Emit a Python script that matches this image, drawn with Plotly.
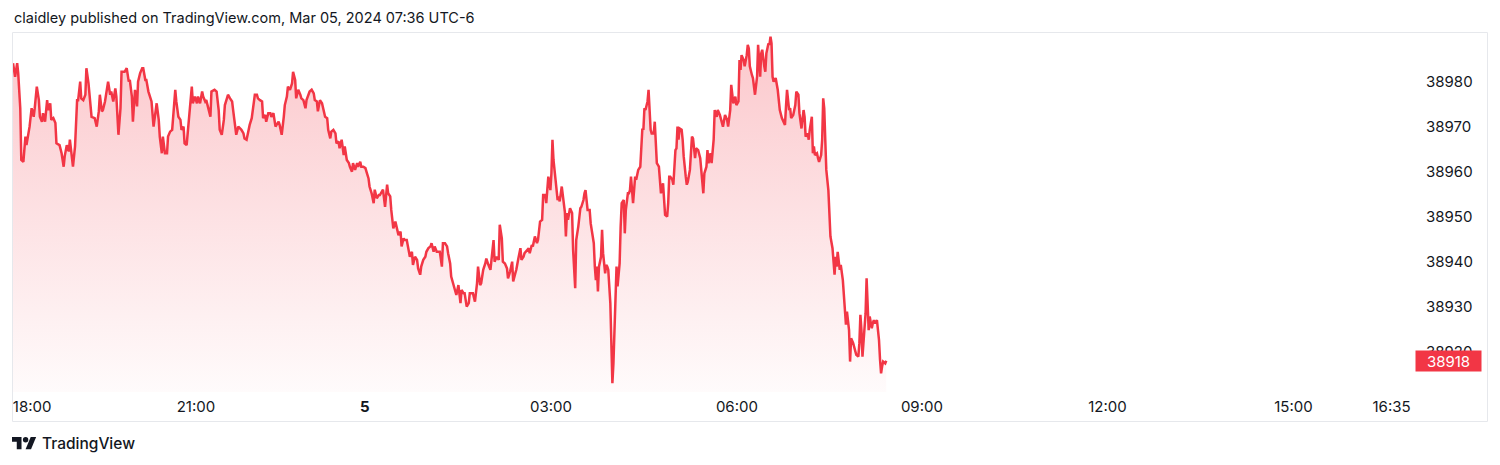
import plotly.graph_objects as go

# ---------------- data (bar index on the session axis, price) ----------------
bars_evening = [
    1, 3, 5, 6, 8, 9, 11, 13, 14, 16,
    17, 19, 21, 22, 24, 26, 27, 29, 30, 32,
    34, 35, 37, 38, 40, 42, 43, 46, 48, 50,
    51, 53, 55, 56, 58, 59, 61, 63, 64, 66,
    67, 69, 71, 72, 74, 75, 77, 80, 82, 84,
    85, 87, 88, 90, 92, 93, 95, 96, 98, 100,
    101, 103, 105, 106, 109, 111, 113, 114, 116, 117,
    119, 121, 122, 124, 126, 127, 129, 130, 132, 134,
    135, 137, 138, 140, 142, 143, 145, 146, 148, 150,
    151, 153, 155, 156, 158, 159, 161, 163, 164, 166,
    167, 169, 171, 172, 174, 175, 177, 179, 180, 182,
    184, 185, 187, 188, 190, 192, 193, 196, 198, 200,
    201, 203, 205, 206, 208, 209, 211, 213, 214, 216,
]
price_evening = [
    38984.1, 38981.1, 38984.1, 38981.9, 38974.1, 38962.6, 38962.2, 38967.8, 38965.9, 38968.2,
    38970.0, 38974.1, 38972.2, 38974.1, 38978.9, 38975.9, 38972.2, 38971.1, 38973.0, 38971.1,
    38975.9, 38973.7, 38975.2, 38971.5, 38971.9, 38970.8, 38966.3, 38965.9, 38964.1, 38961.1,
    38963.4, 38965.9, 38964.5, 38967.1, 38962.2, 38961.1, 38965.6, 38975.9, 38975.9, 38980.0,
    38976.3, 38975.9, 38977.1, 38983.0, 38979.7, 38976.7, 38972.2, 38971.9, 38970.0, 38973.4,
    38977.1, 38973.4, 38973.7, 38975.6, 38978.2, 38980.0, 38977.1, 38977.8, 38975.6, 38978.5,
    38976.7, 38968.2, 38974.1, 38982.2, 38982.2, 38983.0, 38980.0, 38980.4, 38976.7, 38971.1,
    38978.2, 38974.5, 38980.0, 38981.9, 38983.0, 38983.0, 38980.4, 38980.4, 38977.8, 38975.9,
    38975.6, 38970.0, 38971.9, 38975.2, 38971.5, 38967.8, 38964.1, 38967.8, 38964.1, 38964.1,
    38967.8, 38968.9, 38969.3, 38972.2, 38978.2, 38975.6, 38972.2, 38971.5, 38969.3, 38970.0,
    38966.3, 38965.9, 38971.5, 38973.7, 38978.9, 38975.2, 38976.7, 38975.2, 38976.7, 38975.2,
    38977.8, 38976.7, 38975.6, 38975.9, 38973.7, 38972.2, 38977.8, 38978.2, 38977.8, 38973.7,
    38969.3, 38968.2, 38971.5, 38974.8, 38976.3, 38977.1, 38976.3, 38975.6, 38973.7, 38970.0,
]

bars_night = [
    217, 219, 221, 222, 224, 225, 227, 229, 230, 232,
    234, 235, 237, 238, 240, 242, 243, 245, 246, 248,
    250, 251, 253, 255, 256, 258, 259, 261, 263, 264,
    266, 267, 269, 271, 272, 274, 275, 277, 279, 280,
    282, 284, 285, 287, 288, 290, 292, 293, 295, 296,
    298, 300, 301, 303, 305, 306, 308, 309, 311, 313,
    314, 316, 317, 319, 321, 322, 324, 326, 327, 329,
    330, 332, 334, 335, 337, 338, 340, 342, 343, 345,
    346, 348, 350, 351, 353, 355, 356, 358, 359, 361,
    363, 364, 366, 367, 369, 371, 372, 374, 376, 377,
    379, 380, 382, 384, 385, 387, 388, 390, 392, 393,
    395, 396, 398, 400, 401, 403, 405, 406, 408, 409,
    411, 413, 414, 416, 417, 419, 421, 422, 424, 425,
    427, 429,
]
price_night = [
    38968.2, 38970.0, 38969.6, 38969.3, 38968.5, 38967.4, 38967.1, 38970.0, 38970.4, 38971.9,
    38975.6, 38977.1, 38977.1, 38976.3, 38975.9, 38975.6, 38971.9, 38972.6, 38971.1, 38973.0,
    38973.0, 38972.2, 38973.0, 38970.0, 38970.4, 38971.1, 38970.4, 38968.2, 38972.2, 38974.8,
    38976.7, 38978.9, 38978.2, 38979.6, 38982.2, 38980.4, 38976.3, 38978.2, 38977.1, 38976.3,
    38975.9, 38974.1, 38975.9, 38977.1, 38977.8, 38978.2, 38977.4, 38975.9, 38975.6, 38973.4,
    38975.9, 38975.2, 38974.1, 38972.2, 38971.9, 38969.3, 38967.4, 38968.9, 38969.3, 38968.5,
    38966.3, 38966.7, 38965.2, 38967.1, 38963.7, 38965.6, 38962.6, 38961.9, 38961.1, 38960.0,
    38961.9, 38960.4, 38961.9, 38961.1, 38962.2, 38961.1, 38961.1, 38960.8, 38960.0, 38958.5,
    38956.7, 38955.2, 38953.0, 38956.0, 38954.1, 38954.8, 38954.8, 38955.6, 38956.0, 38952.2,
    38957.1, 38955.2, 38954.5, 38951.5, 38947.4, 38948.9, 38947.8, 38945.9, 38946.7, 38943.4,
    38945.2, 38944.8, 38944.8, 38941.9, 38941.1, 38942.2, 38939.3, 38941.1, 38940.4, 38938.5,
    38937.1, 38938.9, 38940.4, 38941.1, 38942.2, 38943.0, 38943.4, 38944.1, 38942.2, 38943.4,
    38942.2, 38942.2, 38942.2, 38938.9, 38944.1, 38944.1, 38943.4, 38941.9, 38939.6, 38936.7,
    38935.2, 38933.7,
]

bars_early = [
    430, 432, 434, 435, 437, 438, 440, 442, 443, 445,
    446, 448, 450, 451, 453, 454, 456, 458, 459, 461,
    463, 464, 466, 467, 469, 471, 472, 474, 475, 477,
    479, 480, 482, 484, 485, 487, 488, 490, 492, 493,
    495, 496, 498, 500, 501, 503, 504, 506, 508, 509,
    511, 513, 514, 516, 517, 519, 521, 522, 523, 524,
    526, 528, 529, 530, 532, 533, 535, 536, 537, 538,
    540, 542, 543, 545, 546, 548, 550, 551, 553, 554,
    555, 557, 559, 560, 562, 563, 564, 565, 566, 567,
    568, 570, 571, 572, 574, 575, 576, 577, 579, 580,
    581, 582, 583, 584, 585, 586, 588, 589, 590, 592,
    593, 594, 596, 597, 598, 599, 601, 602, 603, 604,
    606, 608, 609, 610, 611, 612, 613, 615, 616, 617,
    618, 619, 621, 622, 623, 624, 626, 627, 628, 630,
    631, 632, 634, 635, 636, 637, 639, 640,
]
price_early = [
    38932.6, 38934.8, 38930.8, 38933.7, 38933.0, 38933.0, 38930.0, 38930.8, 38933.0, 38933.0,
    38933.0, 38931.1, 38935.2, 38938.9, 38934.8, 38935.2, 38938.2, 38939.6, 38940.7, 38939.3,
    38938.2, 38940.4, 38944.8, 38940.0, 38941.1, 38940.4, 38948.2, 38945.2, 38940.0, 38939.6,
    38938.5, 38936.3, 38937.8, 38940.0, 38935.6, 38937.4, 38938.2, 38940.7, 38943.0, 38940.4,
    38941.1, 38941.9, 38942.6, 38943.0, 38941.9, 38943.7, 38943.4, 38945.6, 38944.1, 38944.8,
    38948.9, 38949.3, 38954.8, 38954.8, 38953.0, 38958.9, 38955.9, 38959.6, 38967.1, 38962.6,
    38958.2, 38953.7, 38954.5, 38953.4, 38956.7, 38954.5, 38951.1, 38945.6, 38950.8, 38949.3,
    38951.9, 38950.8, 38942.6, 38934.1, 38944.8, 38947.8, 38951.9, 38952.2, 38953.7, 38955.2,
    38955.9, 38951.5, 38951.5, 38948.5, 38944.8, 38944.1, 38938.9, 38935.9, 38938.9, 38933.4,
    38938.9, 38941.1, 38947.1, 38941.9, 38937.4, 38939.3, 38938.9, 38938.2, 38930.8, 38921.1,
    38913.0, 38917.4, 38925.6, 38933.7, 38938.9, 38934.5, 38939.6, 38947.8, 38953.0, 38953.7,
    38946.3, 38951.5, 38955.2, 38955.2, 38955.9, 38958.9, 38953.0, 38955.9, 38958.9, 38958.2,
    38960.4, 38961.1, 38964.8, 38969.6, 38969.3, 38974.1, 38973.7, 38975.6, 38978.2, 38974.5,
    38969.3, 38968.5, 38968.5, 38971.1, 38967.1, 38961.9, 38961.1, 38957.8, 38955.2, 38957.4,
    38954.5, 38950.4, 38950.0, 38953.0, 38958.9, 38958.9, 38958.2, 38957.1,
]

bars_morning = [
    642, 643, 644, 645, 646, 648, 649, 650, 652, 653,
    654, 656, 658, 659, 661, 662, 664, 666, 667, 669,
    670, 672, 673, 674, 676, 677, 679, 680, 682, 683,
    685, 687, 688, 690, 692, 693, 695, 696, 697, 698,
    700, 701, 703, 704, 705, 706, 708, 709, 711, 712,
    713, 714, 716, 717, 719, 721, 722, 723, 724, 725,
    726, 728, 729, 730, 732, 733, 734, 735, 736, 737,
    739, 741, 742, 743, 745, 746, 748, 749, 750, 752,
    753, 754, 756, 758, 759, 761, 762, 764, 766, 767,
    768, 770, 771, 772, 774, 775, 776, 777, 779, 780,
    781, 783, 784, 785, 786, 787, 788, 790, 791, 792,
    794, 795, 796, 797, 798, 799, 801, 802, 803, 804,
    806, 807, 808, 810, 811, 812, 814, 815, 816, 817,
    819, 820, 821, 822, 823, 824, 826, 827, 828, 829,
    830, 832, 833, 834, 835, 837, 838, 839, 840, 841,
    842, 843, 845, 846,
]
price_morning = [
    38964.8, 38965.2, 38970.0, 38967.1, 38969.6, 38969.3, 38967.1, 38963.4, 38958.9, 38957.1,
    38957.8, 38960.4, 38967.8, 38967.4, 38963.0, 38965.2, 38964.8, 38963.0, 38960.4, 38955.2,
    38959.6, 38961.1, 38964.8, 38961.9, 38964.1, 38961.9, 38967.1, 38973.7, 38972.2, 38973.7,
    38972.6, 38970.8, 38970.0, 38972.6, 38971.5, 38970.0, 38973.7, 38979.3, 38977.4, 38975.2,
    38976.7, 38974.8, 38975.6, 38984.8, 38982.6, 38985.9, 38984.8, 38983.4, 38985.9, 38988.2,
    38987.4, 38983.4, 38981.5, 38980.8, 38977.1, 38981.1, 38988.2, 38984.1, 38981.1, 38986.3,
    38987.1, 38983.4, 38982.2, 38986.3, 38988.5, 38988.2, 38990.0, 38988.5, 38981.1, 38980.0,
    38980.8, 38978.2, 38975.6, 38973.7, 38971.9, 38971.5, 38970.4, 38974.5, 38978.2, 38973.7,
    38974.1, 38971.9, 38972.6, 38974.8, 38977.8, 38977.1, 38973.0, 38969.6, 38973.7, 38972.2,
    38967.8, 38968.5, 38967.1, 38969.3, 38972.2, 38964.1, 38965.6, 38963.7, 38964.1, 38963.0,
    38962.2, 38963.7, 38967.1, 38976.3, 38974.1, 38967.1, 38960.4, 38955.9, 38951.1, 38945.6,
    38943.0, 38940.4, 38937.1, 38941.1, 38938.9, 38942.2, 38938.2, 38939.3, 38937.8, 38935.9,
    38929.3, 38926.0, 38928.9, 38924.8, 38917.8, 38923.0, 38921.9, 38921.1, 38920.0, 38919.3,
    38918.9, 38921.9, 38928.2, 38924.8, 38918.9, 38922.6, 38928.5, 38936.3, 38930.8, 38924.8,
    38927.8, 38925.2, 38926.3, 38927.0, 38926.3, 38927.0, 38924.8, 38922.6, 38918.2, 38915.2,
    38916.7, 38917.8, 38917.4, 38918.0,
]

last_price = 38918

time_tick_bars = [19.5, 178, 341.5, 521.5, 701.5, 880.5, 1060, 1240, 1335]
time_tick_text = ["18:00", "21:00", "<b>5</b>", "03:00", "06:00", "09:00", "12:00", "15:00", "16:35"]
price_ticks = [38920, 38930, 38940, 38950, 38960, 38970, 38980]

header_text = "claidley published on TradingView.com, Mar 05, 2024 07:36 UTC-6"
brand_text = "TradingView"

# ---------------- layout constants ----------------
W, H = 1500, 465
ML, MR, MT, MB = 12, 85, 32, 73
PW = W - ML - MR
PH = H - MT - MB
RED = "#F23645"
INK = "#131722"
FONT = "Inter, Roboto, Arial, sans-serif"


def fx(px):
    return (px - ML) / PW


def fy(py):
    return (H - MB - py) / PH


bars = bars_evening + bars_night + bars_early + bars_morning
prices = price_evening + price_night + price_early + price_morning

Y0, Y1 = 38911.04, 38991.04

fig = go.Figure()
fig.add_trace(go.Scatter(
    x=bars, y=prices, mode="lines",
    line=dict(color=RED, width=2.5),
    fill="tozeroy",
    fillgradient=dict(type="vertical", start=Y0, stop=Y1,
                      colorscale=[[0, "rgba(242,54,69,0.02)"], [1, "rgba(242,54,69,0.28)"]]),
    hoverinfo="skip", showlegend=False,
))

# frame
shapes = [dict(type="rect", xref="paper", yref="paper",
               x0=fx(12.5), x1=fx(1487.5), y0=fy(421.5), y1=fy(32.5),
               line=dict(color="#e6e8ec", width=1), fillcolor="rgba(0,0,0,0)", layer="above")]

# TradingView logo
S, OX, OY = 0.68, 12, 434.3


def lp(u, v):
    return f"{fx(OX + u * S):.6f},{fy(OY + v * S):.6f}"


t_shape = [(0, 4), (14, 4), (14, 22), (7, 22), (7, 11), (0, 11)]
slant = [(20, 22), (27.5, 4), (35.5, 4), (28, 22)]
for poly in (t_shape, slant):
    path = "M" + " L".join(lp(u, v) for u, v in poly) + " Z"
    shapes.append(dict(type="path", xref="paper", yref="paper", path=path,
                       fillcolor=INK, line=dict(width=0)))
shapes.append(dict(type="circle", xref="paper", yref="paper",
                   x0=fx(OX + 16 * S), x1=fx(OX + 24 * S),
                   y0=fy(OY + 12 * S), y1=fy(OY + 4 * S),
                   fillcolor=INK, line=dict(width=0)))

annotations = [
    dict(text=header_text, xref="paper", yref="paper", x=fx(12), y=fy(18),
         xanchor="left", yanchor="middle", showarrow=False,
         font=dict(family=FONT, size=14.5, color=INK)),
    dict(text=brand_text, xref="paper", yref="paper", x=fx(39.5), y=fy(443.5),
         xanchor="left", yanchor="middle", showarrow=False,
         font=dict(family=FONT, size=15.5, color=INK, weight=500)),
    dict(text=str(last_price), xref="paper", yref="y", x=1.0, y=last_price,
         xanchor="left", yanchor="middle", showarrow=False,
         bgcolor=RED, width=61, height=16, borderpad=2, align="center",
         font=dict(family=FONT, size=15, color="white")),
]

fig.update_layout(
    width=W, height=H,
    margin=dict(l=ML, r=MR, t=MT, b=MB, pad=0),
    paper_bgcolor="white", plot_bgcolor="white",
    font=dict(family=FONT, color=INK, size=15),
    shapes=shapes, annotations=annotations,
    xaxis=dict(range=[0, PW * 0.9677], tickmode="array", tickvals=time_tick_bars,
               ticktext=time_tick_text, showgrid=False, zeroline=False, showline=False,
               ticks="", ticklabelstandoff=4, tickfont=dict(size=15, color=INK), fixedrange=True),
    yaxis=dict(range=[Y0, Y1], side="right", tickmode="array", tickvals=price_ticks,
               ticktext=[str(v) for v in price_ticks], showgrid=False, zeroline=False,
               showline=False, ticks="", ticklabelstandoff=10,
               tickfont=dict(size=15, color=INK), fixedrange=True),
)

fig.write_html(
    "out.html",
    config={"displayModeBar": False},
    post_script="document.body.style.margin='0';document.body.style.overflow='hidden';",
)
